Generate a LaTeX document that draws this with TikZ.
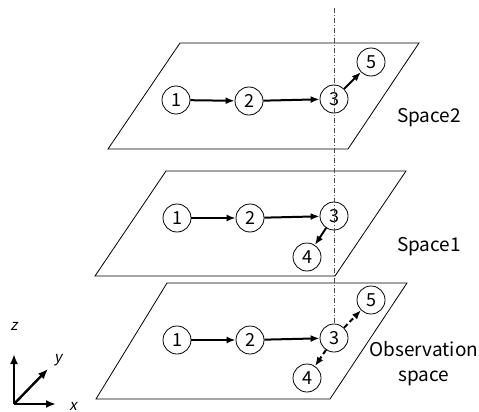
\documentclass[tikz,border=0pt]{standalone}
\usepackage{fontspec}
\setmainfont{Noto Sans CJK JP}
\newfontfamily\axisfont[FakeSlant=0.2]{Noto Sans CJK JP}
\usetikzlibrary{arrows.meta}

\begin{document}
\begin{tikzpicture}[x=1pt,y=-1pt,
    state/.style={circle,draw,line width=0.8pt,minimum size=28pt,inner sep=0pt,
                  font=\fontsize{18}{20}\selectfont},
    plane/.style={draw,line width=0.8pt},
    move/.style={line width=2pt,-{Latex[length=9pt,width=7pt]}},
    guess/.style={move,dash pattern=on 5pt off 3pt},
    axis/.style={line width=2.4pt,-{Latex[length=10pt,width=8pt]}},
    lbl/.style={font=\fontsize{19}{25}\selectfont}]

  \useasboundingbox (0,0) rectangle (479,412);

  % ---------- top: Space2 ----------
  \draw[plane] (180,43) -- (419,43) -- (348,149) -- (108,149) -- cycle;
  \node[state] (a1) at (176,100) {1};
  \node[state] (a2) at (249,101) {2};
  \node[state] (a3) at (334,99) {3};
  \node[state] (a5) at (371,62) {5};
  \draw[move] (a1) -- (a2);
  \draw[move] (a2) -- (a3);
  \draw[move] (a3) -- (a5);
  \node[lbl] (l2) at (429,118) {Space2};

  % ---------- middle: Space1 ----------
  \draw[plane] (166,171) -- (406,171) -- (335,276) -- (95,276) -- cycle;
  \node[state] (b1) at (177,218) {1};
  \node[state] (b2) at (250,218) {2};
  \node[state] (b3) at (334,216) {3};
  \node[state] (b4) at (307,257) {4};
  \draw[move] (b1) -- (b2);
  \draw[move] (b2) -- (b3);
  \draw[move] (b3) -- (b4);
  \node[lbl] (l1) at (429,247) {Space1};

  % ---------- bottom: observation ----------
  \draw[plane] (167,283) -- (407,283) -- (330,399) -- (96,399) -- cycle;
  \node[state] (c1) at (177,340) {1};
  \node[state] (c2) at (250,340) {2};
  \node[state] (c3) at (334,338) {3};
  \node[state] (c5) at (371,300) {5};
  \node[state] (c4) at (307,378) {4};
  \draw[move] (c1) -- (c2);
  \draw[move] (c2) -- (c3);
  \draw[guess] (c3) -- (c5);
  \draw[guess] (c3) -- (c4);
  \node[lbl,align=center] (l0) at (424,364) {Observation\\space};

  % vertical guide
  \coordinate (vtop) at (334,8);
  \draw[black!70,line width=0.5pt,dash pattern=on 5pt off 2pt on 1pt off 2pt]
    (vtop) -- (c3.north);

  % axes
  \coordinate (o) at (14,404);
  \coordinate (ez) at (14,354);
  \coordinate (ex) at (56,404);
  \coordinate (ey) at (48,369);
  \draw[axis] (o) -- (ez);
  \draw[axis] (o) -- (ex);
  \draw[axis] (o) -- (ey);
  \node[font=\axisfont\fontsize{15}{17}\selectfont] (tz) at (14,326) {z};
  \node[font=\axisfont\fontsize{15}{17}\selectfont] (ty) at (58,360) {y};
  \node[font=\axisfont\fontsize{15}{17}\selectfont] (tx) at (73,406) {x};

\end{tikzpicture}
\end{document}
